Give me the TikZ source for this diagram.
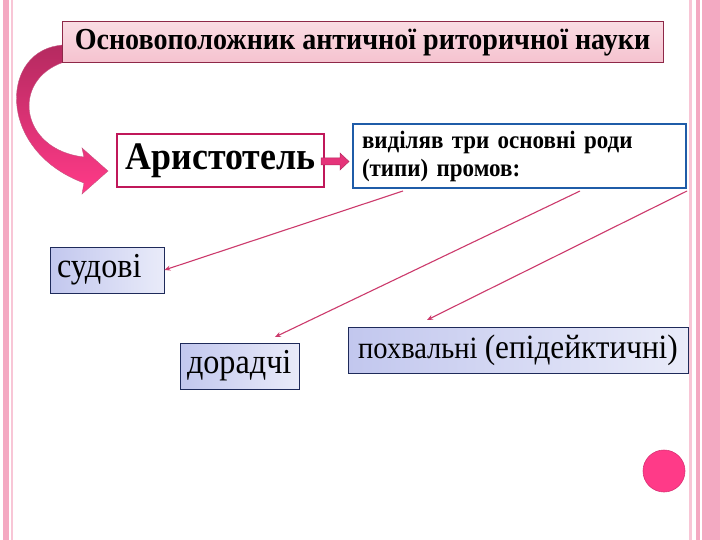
\documentclass[tikz,border=0pt]{standalone}
\usepackage{fontspec}
\setmainfont[FakeStretch=0.92]{Liberation Serif}
\usetikzlibrary{arrows.meta,calc}
\definecolor{stripe}{HTML}{F4A9C2}
\definecolor{stripelt}{HTML}{F8C6D6}
\definecolor{titleborder}{HTML}{8E2848}
\definecolor{titletop}{HTML}{FADCE3}
\definecolor{titlebot}{HTML}{F5C2CF}
\definecolor{aristborder}{HTML}{C0185A}
\definecolor{blueborder}{HTML}{1F5CA8}
\definecolor{navy}{HTML}{1E2A5A}
\definecolor{lav}{HTML}{C2C7EE}
\definecolor{lavlt}{HTML}{E9EBF9}
\definecolor{conn}{HTML}{CC3A6C}
\definecolor{bigpink}{HTML}{FF3A88}
\definecolor{darkpink}{HTML}{B52A60}
\tikzset{
  titlebox/.style={draw=titleborder, line width=1pt, top color=titletop, bottom color=titlebot, minimum width=601pt, minimum height=41pt, inner sep=0pt, font=\fontsize{30.5}{34}\selectfont\bfseries},
  aristbox/.style={draw=aristborder, line width=1.5pt, fill=white, minimum width=207pt, minimum height=53pt, inner sep=0pt, font=\fontsize{39}{42}\selectfont\bfseries},
  bluebox/.style={draw=blueborder, line width=1.6pt, fill=white, text width=315pt, minimum height=64pt, inner xsep=9pt, inner ysep=4pt, align=left, font=\fontsize{25}{28}\selectfont\bfseries},
  kindbox/.style={draw=navy, line width=0.8pt, left color=lav, right color=lavlt, inner ysep=0pt, font=\fontsize{35}{38}\selectfont},
  connector/.style={draw=conn, line width=1.1pt, -{Stealth[length=6pt,width=5pt]}},
}
\begin{document}
\begin{tikzpicture}[x=1pt,y=-1pt]
\useasboundingbox (0,0) rectangle (720,540);
\fill[white] (0,0) rectangle (720,540);
% borders
\fill[stripe] (3,0) rectangle (9,540);
\fill[stripelt] (11,0) rectangle (12.5,540);
\fill[stripelt] (689,0) rectangle (692,540);
\fill[stripe] (696,0) rectangle (700,540);
\fill[stripe] (702,0) rectangle (720,540);
% curved arrow
\shade[top color=darkpink, bottom color=bigpink, draw=darkpink!80, line width=0.4pt]
  (64,45) .. controls (0,48) and (-5,150) .. (84,183) -- (82,194) -- (108,171) -- (82,148) -- (84,157)
  .. controls (20,150) and (10,80) .. (64,62) -- cycle;
% nodes
\node[titlebox] (title) at (362.5,42.5) {Основоположник античної риторичної науки};
\node[aristbox] (arist) at (220.5,160.5) {Аристотель};
\node[bluebox] (types) at (519.5,156) {виділяв три основні роди\\(типи) промов:};
\node[kindbox, text width=100pt, inner xsep=7pt, align=left, minimum height=46pt] (sud) at (107,270) {судові};
\node[kindbox, text width=105pt, inner xsep=7pt, align=left, minimum height=46pt] (dor) at (239.5,366) {дорадчі};
\node[kindbox, minimum width=340pt, inner xsep=0pt, minimum height=46pt] (pokh) at (518,350) {\fontsize{31}{36}\selectfont похвальні \fontsize{34}{38}\selectfont(епідейктичні)};
% small block arrow
\fill[bigpink!90!black, draw=darkpink, line width=0.5pt]
  (321,158) -- (340,158) -- (340,153) -- (349,161.5) -- (340,170) -- (340,165) -- (321,165) -- cycle;
% connectors
\coordinate (s1) at (403,191);
\coordinate (s2) at (580,191);
\coordinate (s3) at (687,191);
\coordinate (e2) at (275,337);
\coordinate (e3) at (427,320);
\draw[connector] (s1) -- (sud.east);
\draw[connector] (s2) -- (e2);
\draw[connector] (s3) -- (e3);
% circle
\node[circle, fill=bigpink, draw=bigpink!85!black, line width=0.6pt, minimum size=42pt, inner sep=0pt] (dot) at (664,471) {};
\end{tikzpicture}
\end{document}
